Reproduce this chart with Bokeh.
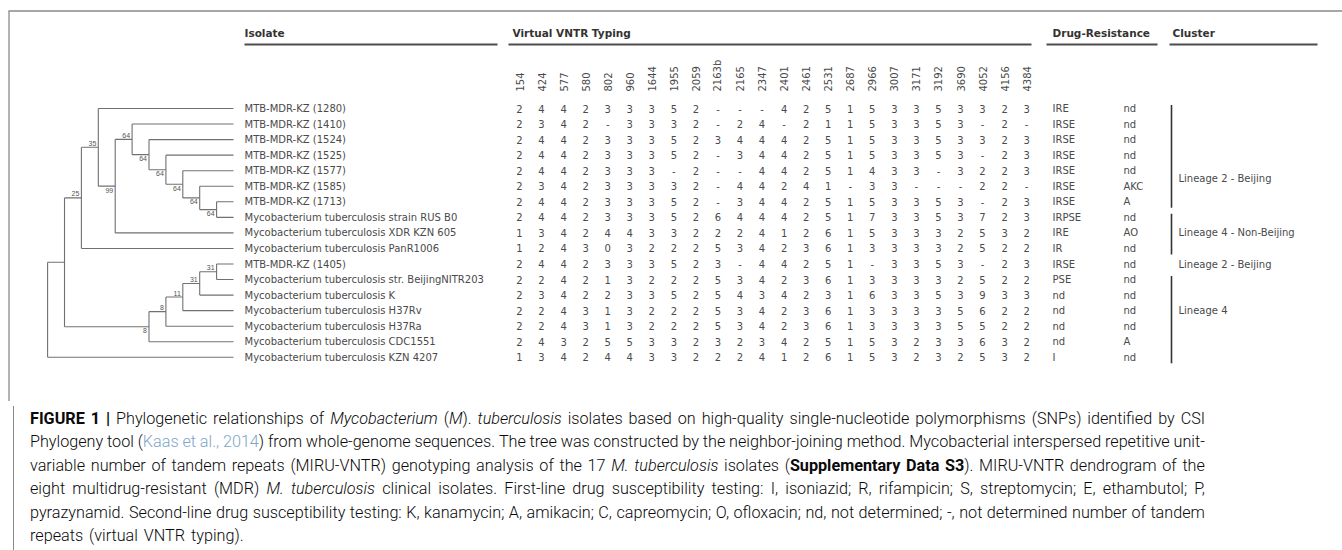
import math
from bokeh.plotting import figure
from bokeh.models import Range1d, Div
from bokeh.layouts import column
from bokeh.core.properties import value
from bokeh.embed import file_html
from bokeh.resources import INLINE

# ---------------- data ----------------
isolates = [
    "MTB-MDR-KZ (1280)",
    "MTB-MDR-KZ (1410)",
    "MTB-MDR-KZ (1524)",
    "MTB-MDR-KZ (1525)",
    "MTB-MDR-KZ (1577)",
    "MTB-MDR-KZ (1585)",
    "MTB-MDR-KZ (1713)",
    "Mycobacterium tuberculosis strain RUS B0",
    "Mycobacterium tuberculosis XDR KZN 605",
    "Mycobacterium tuberculosis PanR1006",
    "MTB-MDR-KZ (1405)",
    "Mycobacterium tuberculosis str. BeijingNITR203",
    "Mycobacterium tuberculosis K",
    "Mycobacterium tuberculosis H37Rv",
    "Mycobacterium tuberculosis H37Ra",
    "Mycobacterium tuberculosis CDC1551",
    "Mycobacterium tuberculosis KZN 4207",
]

loci = ["154", "424", "577", "580", "802", "960", "1644", "1955", "2059", "2163b",
        "2165", "2347", "2401", "2461", "2531", "2687", "2966", "3007", "3171", "3192",
        "3690", "4052", "4156", "4384"]

vntr = [
    "2 4 4 2 3 3 3 5 2 - - - 4 2 5 1 5 3 3 5 3 3 2 3",
    "2 3 4 2 - 3 3 3 2 - 2 4 - 2 1 1 5 3 3 5 3 - 2 -",
    "2 4 4 2 3 3 3 5 2 3 4 4 4 2 5 1 5 3 3 5 3 3 2 3",
    "2 4 4 2 3 3 3 5 2 - 3 4 4 2 5 1 5 3 3 5 3 - 2 3",
    "2 4 4 2 3 3 3 - 2 - - 4 4 2 5 1 4 3 3 - 3 2 2 3",
    "2 3 4 2 3 3 3 3 2 - 4 4 2 4 1 - 3 3 - - - 2 2 -",
    "2 4 4 2 3 3 3 5 2 - 3 4 4 2 5 1 5 3 3 5 3 - 2 3",
    "2 4 4 2 3 3 3 5 2 6 4 4 4 2 5 1 7 3 3 5 3 7 2 3",
    "1 3 4 2 4 4 3 3 2 2 2 4 1 2 6 1 5 3 3 3 2 5 3 2",
    "1 2 4 3 0 3 2 2 2 5 3 4 2 3 6 1 3 3 3 3 2 5 2 2",
    "2 4 4 2 3 3 3 5 2 3 - 4 4 2 5 1 - 3 3 5 3 - 2 3",
    "2 2 4 2 1 3 2 2 2 5 3 4 2 3 6 1 3 3 3 3 2 5 2 2",
    "2 3 4 2 2 3 3 5 2 5 4 3 4 2 3 1 6 3 3 5 3 9 3 3",
    "2 2 4 3 1 3 2 2 2 5 3 4 2 3 6 1 3 3 3 3 5 6 2 2",
    "2 2 4 3 1 3 2 2 2 5 3 4 2 3 6 1 3 3 3 3 5 5 2 2",
    "2 4 3 2 5 5 3 3 2 3 2 3 4 2 5 1 5 3 2 3 3 6 3 2",
    "1 3 4 2 4 4 3 3 2 2 2 4 1 2 6 1 5 3 2 3 2 5 3 2",
]

first_line = ["IRE", "IRSE", "IRSE", "IRSE", "IRSE", "IRSE", "IRSE", "IRPSE", "IRE", "IR",
              "IRSE", "PSE", "nd", "nd", "nd", "nd", "I"]
second_line = ["nd", "nd", "nd", "nd", "nd", "AKC", "A", "nd", "AO", "nd",
               "nd", "nd", "nd", "nd", "nd", "A", "nd"]

# cluster: name, first row, last row, label row, bracket drawn
cluster_names = ["Lineage 2 - Beijing", "Lineage 4 - Non-Beijing", "Lineage 2 - Beijing", "Lineage 4"]
cluster_first = [0, 7, 10, 11]
cluster_last = [6, 9, 10, 16]
cluster_label_row = [4.5, 8, 10, 13]
cluster_bracket = [True, True, False, True]

# tree: (bootstrap, label side, child, child); leaves are row indices
tree = ("", "",
        ("", "",
         ("25", "above",
          ("35", "above", 0,
           ("99", "below",
            ("64", "above", 1,
             ("64", "below", 2,
              ("64", "below", 3,
               ("64", "below", 4,
                ("64", "below", 5,
                 ("64", "below", 6, 7)))))),
            8)),
          9),
         ("8", "below",
          ("8", "above",
           ("11", "above",
            ("31", "above",
             ("31", "above", 10, 11),
             12),
            13),
           14),
          15)),
        16)

headers = ["Isolate", "Virtual VNTR Typing", "Drug-Resistance", "Cluster"]

# ---------------- layout constants (page pixels) ----------------
W, H = 1342, 401
CAP_H = 550 - H
ROW0, ROWSTEP = 108.0, 15.55
TIP_X, LEVEL = 233.0, 16.9
NAME_X = 244.0
COL0, COLSTEP = 519.0, 22.05
DR1_X, DR2_X = 1052.0, 1123.0
CL_X = 1171.0
TXT = "#4a4a4a"
FONT = value("DejaVu Sans")

p = figure(width=W, height=H, x_range=Range1d(0, W), y_range=Range1d(H, 0),
           output_backend="svg", toolbar_location=None, min_border=0,
           x_axis_location=None, y_axis_location=None)
p.grid.visible = False
p.outline_line_color = None
p.background_fill_color = "white"

# frame lines
p.segment(x0=[8, 8.5], y0=[10.5, 10.5], x1=[W, 8.5], y1=[10.5, H],
          line_color="#8a8a8a", line_width=1.3)

# headers and underlines
hx = [NAME_X, 512.0, DR1_X, 1172.0]
ul0 = [NAME_X, 508.0, 1046.0, 1169.0]
ul1 = [497.0, 1031.0, 1157.0, 1317.0]
p.text(x=hx, y=[32] * 4, text=headers, text_font=FONT, text_font_style="bold",
       text_font_size="10.5px", text_color="#333333", text_align="left", text_baseline="middle")
p.segment(x0=ul0, y0=[44] * 4, x1=ul1, y1=[44] * 4, line_color="#4d4d4d", line_width=2.2)

# rotated locus labels
col_x = [COL0 + COLSTEP * j for j in range(len(loci))]
p.text(x=col_x, y=[91] * len(loci), text=loci, angle=math.pi / 2, text_font=FONT,
       text_font_size="10px", text_color=TXT, text_align="left", text_baseline="middle")

row_y = [ROW0 + ROWSTEP * i for i in range(len(isolates))]

# isolate names
p.text(x=[NAME_X] * len(isolates), y=row_y, text=isolates, text_font=FONT,
       text_font_size="10px", text_color=TXT, text_align="left", text_baseline="middle")

# VNTR values
vx, vy, vt = [], [], []
for i, row in enumerate(vntr):
    for j, v in enumerate(row.split()):
        vx.append(col_x[j]); vy.append(row_y[i]); vt.append(v)
p.text(x=vx, y=vy, text=vt, text_font=FONT, text_font_size="10px", text_color=TXT,
       text_align="center", text_baseline="middle")

# drug resistance
p.text(x=[DR1_X] * len(first_line), y=row_y, text=first_line, text_font=FONT,
       text_font_size="10px", text_color=TXT, text_align="left", text_baseline="middle")
p.text(x=[DR2_X] * len(second_line), y=row_y, text=second_line, text_font=FONT,
       text_font_size="10px", text_color=TXT, text_align="left", text_baseline="middle")

# clusters
bx0, by0, by1 = [], [], []
for k in range(len(cluster_names)):
    if cluster_bracket[k]:
        bx0.append(CL_X)
        by0.append(row_y[cluster_first[k]] - 3.5)
        by1.append(row_y[cluster_last[k]] + 6)
p.segment(x0=bx0, y0=by0, x1=bx0, y1=by1, line_color="#333333", line_width=1.6)
p.text(x=[CL_X + 7] * len(cluster_names),
       y=[ROW0 + ROWSTEP * r for r in cluster_label_row], text=cluster_names,
       text_font=FONT, text_font_size="10px", text_color=TXT, text_align="left",
       text_baseline="middle")

# tree layout
def height(n):
    return 0 if isinstance(n, int) else 1 + max(height(n[2]), height(n[3]))

segs = {"x0": [], "y0": [], "x1": [], "y1": []}
bs = {"x": [], "y": [], "text": [], "base": []}

def layout(n):
    if isinstance(n, int):
        return TIP_X, row_y[n]
    x = TIP_X - LEVEL * height(n)
    cx1, cy1 = layout(n[2])
    cx2, cy2 = layout(n[3])
    y = (cy1 + cy2) / 2.0
    segs["x0"] += [x, x, x]
    segs["y0"] += [cy1, cy1, cy2]
    segs["x1"] += [x, cx1, cx2]
    segs["y1"] += [cy2, cy1, cy2]
    if n[0]:
        bs["x"].append(x - 2)
        if n[1] == "above":
            bs["y"].append(y - 1.5); bs["base"].append("bottom")
        else:
            bs["y"].append(y + 1.5); bs["base"].append("top")
        bs["text"].append(n[0])
    return x, y

layout(tree)
p.segment(x0=segs["x0"], y0=segs["y0"], x1=segs["x1"], y1=segs["y1"],
          line_color="#707070", line_width=1.1)
for base in ("bottom", "top"):
    idx = [i for i, b in enumerate(bs["base"]) if b == base]
    p.text(x=[bs["x"][i] for i in idx], y=[bs["y"][i] for i in idx],
           text=[bs["text"][i] for i in idx], text_font=value("Liberation Sans"),
           text_font_size="7px", text_color="#555555", text_align="right",
           text_baseline=base)

# ---------------- caption ----------------
cap_lines = [
    "<b>FIGURE</b> <b>1</b> <b>|</b> Phylogenetic relationships of <i>Mycobacterium</i> (<i>M</i>). <i>tuberculosis</i> isolates based on high-quality single-nucleotide polymorphisms (SNPs) identified by CSI",
    "Phylogeny tool (<k>Kaas</k> <k>et</k> <k>al.,</k> <k>2014</k>) from whole-genome sequences. The tree was constructed by the neighbor-joining method. Mycobacterial interspersed repetitive unit-",
    "variable number of tandem repeats (MIRU-VNTR) genotyping analysis of the 17 <i>M.</i> <i>tuberculosis</i> isolates (<b>Supplementary</b> <b>Data</b> <b>S3</b>). MIRU-VNTR dendrogram of the",
    "eight multidrug-resistant (MDR) <i>M.</i> <i>tuberculosis</i> clinical isolates. First-line drug susceptibility testing: I, isoniazid; R, rifampicin; S, streptomycin; E, ethambutol; P,",
    "pyrazynamid. Second-line drug susceptibility testing: K, kanamycin; A, amikacin; C, capreomycin; O, ofloxacin; nd, not determined; -, not determined number of tandem",
    "repeats (virtual VNTR typing).",
]
justified = [False, True, True, True, True, False]

parts = ["<style>b{font-weight:700} i{font-style:italic} k{color:#7ea6c9}"
         ".ln{height:23.5px;line-height:23.5px;white-space:nowrap}"
         ".nl{word-spacing:2px}"
         ".jl{display:flex;justify-content:space-between}</style>"]
parts.append('<div style="margin-left:8px;border-left:1px solid #8a8a8a;height:%dpx;box-sizing:border-box;'
             'padding:0.5px 20px 0 16px;font-family:Roboto,\'Liberation Sans\',sans-serif;'
             'font-weight:300;font-size:16.2px;color:#0a0a0a;">' % CAP_H)
for ln, j in zip(cap_lines, justified):
    if j:
        words = "".join("<span>%s</span>" % w for w in ln.split(" "))
        parts.append('<div class="ln jl">%s</div>' % words)
    else:
        parts.append('<div class="ln nl">%s</div>' % ln)
parts.append("</div>")
cap = Div(text="".join(parts), width=W, height=CAP_H)

layout_obj = column(p, cap, spacing=0)
open("out.html", "w").write(file_html(layout_obj, INLINE))
